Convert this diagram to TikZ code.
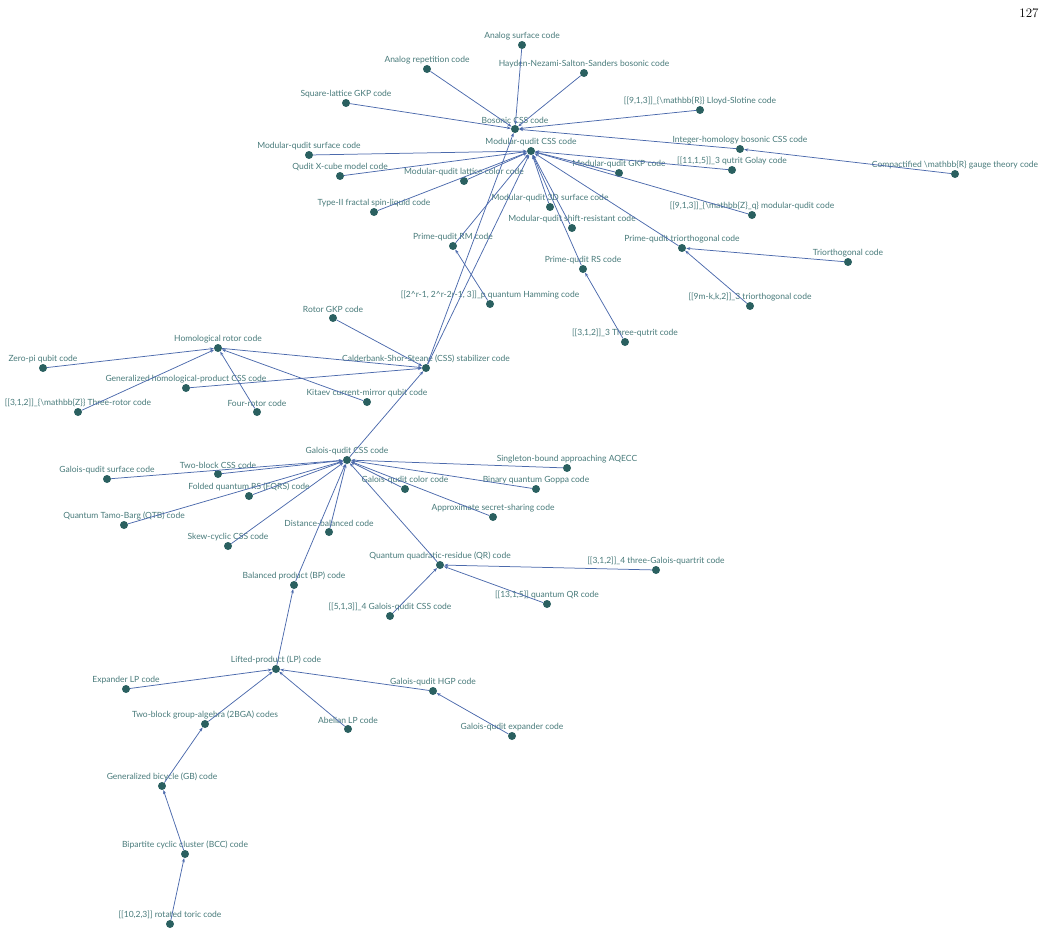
\documentclass[tikz,border=0pt]{standalone}
\usepackage{fontspec}
\newfontfamily\labfont{Lato}
\usetikzlibrary{arrows.meta}
\definecolor{dotcol}{RGB}{42,96,96}
\definecolor{labcol}{RGB}{72,122,122}
\definecolor{edgecol}{RGB}{76,106,172}
\tikzset{
  dot/.style={circle,fill=dotcol,inner sep=0pt,minimum size=8pt},
  lab/.style={font=\labfont\fontsize{8.5}{9}\selectfont,text=labcol,inner sep=0pt,label distance=1pt},
  edge/.style={draw=edgecol,line width=0.75pt,-{Stealth[length=4pt,width=3pt]}}
}
\begin{document}
\begin{tikzpicture}[x=1pt,y=-1pt,every label/.style={lab}]
\useasboundingbox (0,0) rectangle (1046,942);
\node[font=\fontsize{13}{14}\selectfont] (pagenum) at (1029,13) {127};
% bosonic part
\node[dot,label=above:Analog surface code] (anasurf) at (522,45) {};
\node[dot,label=above:Analog repetition code] (anarep) at (427,69) {};
\node[dot,label=above:Hayden-Nezami-Salton-Sanders bosonic code] (hnss) at (584,73) {};
\node[dot,label=above:Square-lattice GKP code] (sqgkp) at (346,103) {};
\node[dot,label=above:{[[9,1,3]]\_\{\textbackslash mathbb\{R\}\} Lloyd-Slotine code}] (lloyd) at (700,110) {};
\node[dot,label=above:Bosonic CSS code] (boscss) at (515,129) {};
\node[dot,label=above:Integer-homology bosonic CSS code] (inthom) at (740,149) {};
\node[dot,label=above:Compactified \textbackslash mathbb\{R\} gauge theory code] (compact) at (955,174) {};
% modular-qudit part
\node[dot,label=above:Modular-qudit CSS code] (modcss) at (531,151) {};
\node[dot,label=above:Modular-qudit surface code] (modsurf) at (309,155) {};
\node[dot,label=above:Qudit X-cube model code] (xcube) at (340,176) {};
\node[dot,label=above:Modular-qudit lattice color code] (modcolor) at (464,181) {};
\node[dot,label=above:{[[11,1,5]]\_3 qutrit Golay code}] (golay) at (732,170) {};
\node[dot,label=above:Modular-qudit GKP code] (modgkp) at (619,173) {};
\node[dot,label=above:Type-II fractal spin-liquid code] (fractal) at (374,212) {};
\node[dot,label=above:Modular-qudit 3D surface code] (mod3d) at (550,207) {};
\node[dot,label=above:{[[9,1,3]]\_\{\textbackslash mathbb\{Z\}\_q\} modular-qudit code}] (ninezq) at (752,215) {};
\node[dot,label=above:Modular-qudit shift-resistant code] (shiftres) at (572,228) {};
\node[dot,label=above:Prime-qudit RM code] (primerm) at (453,246) {};
\node[dot,label=above:Prime-qudit triorthogonal code] (primetri) at (682,248) {};
\node[dot,label=above:Triorthogonal code] (triorth) at (848,262) {};
\node[dot,label=above:Prime-qudit RS code] (primers) at (583,269) {};
\node[dot,label=above:{[[2\textasciicircum r-1, 2\textasciicircum r-2r-1, 3]]\_p quantum Hamming code}] (hamming) at (490,304) {};
\node[dot,label=above:{[[9m-k,k,2]]\_3 triorthogonal code}] (ninem) at (750,306) {};
\node[dot,label=above:{[[3,1,2]]\_3 Three-qutrit code}] (threequtrit) at (625,342) {};
% rotor part
\node[dot,label=above:Rotor GKP code] (rotorgkp) at (333,318) {};
\node[dot,label=above:Homological rotor code] (homrotor) at (218,348) {};
\node[dot,label=above:Calderbank-Shor-Steane (CSS) stabilizer code] (css) at (426,368) {};
\node[dot,label=above:Zero-pi qubit code] (zeropi) at (43,368) {};
\node[dot,label=above:Generalized homological-product CSS code] (genhom) at (186,388) {};
\node[dot,label=above:Kitaev current-mirror qubit code] (kitaev) at (367,402) {};
\node[dot,label=above:{[[3,1,2]]\_\{\textbackslash mathbb\{Z\}\} Three-rotor code}] (threerotor) at (78,412) {};
\node[dot,label=above:Four-rotor code] (fourrotor) at (257,412) {};
% galois-qudit part
\node[dot,label=above:Galois-qudit CSS code] (galcss) at (347,460) {};
\node[dot,label=above:Galois-qudit surface code] (galsurf) at (107,479) {};
\node[dot,label=above:Two-block CSS code] (twoblock) at (218,474) {};
\node[dot,label=above:Singleton-bound approaching AQECC] (singleton) at (567,468) {};
\node[dot,label=above:Folded quantum RS (FQRS) code] (fqrs) at (249,496) {};
\node[dot,label=above:Galois-qudit color code] (galcolor) at (405,489) {};
\node[dot,label=above:Binary quantum Goppa code] (goppa) at (536,489) {};
\node[dot,label=above:Quantum Tamo-Barg (QTB) code] (qtb) at (124,525) {};
\node[dot,label=above:Approximate secret-sharing code] (secret) at (493,517) {};
\node[dot,label=above:Distance-balanced code] (distbal) at (329,532) {};
\node[dot,label=above:Skew-cyclic CSS code] (skew) at (228,546) {};
\node[dot,label=above:Quantum quadratic-residue (QR) code] (qr) at (440,565) {};
\node[dot,label=above:{[[3,1,2]]\_4 three-Galois-quartrit code}] (quartrit) at (656,570) {};
\node[dot,label=above:Balanced product (BP) code] (bp) at (294,585) {};
\node[dot,label=above:{[[13,1,5]] quantum QR code}] (qrthirteen) at (547,604) {};
\node[dot,label=above:{[[5,1,3]]\_4 Galois-qudit CSS code}] (fivegal) at (390,616) {};
% lifted-product part
\node[dot,label=above:Lifted-product (LP) code] (lp) at (276,669) {};
\node[dot,label=above:Expander LP code] (explp) at (126,689) {};
\node[dot,label=above:Galois-qudit HGP code] (galhgp) at (433,691) {};
\node[dot,label=above:Two-block group-algebra (2BGA) codes] (tbga) at (205,724) {};
\node[dot,label=above:Abelian LP code] (abelp) at (348,729) {};
\node[dot,label=above:Galois-qudit expander code] (galexp) at (512,736) {};
\node[dot,label=above:Generalized bicycle (GB) code] (gb) at (162,786) {};
\node[dot,label=above:Bipartite cyclic cluster (BCC) code] (bcc) at (185,854) {};
\node[dot,label=above:{[[10,2,3]] rotated toric code}] (rottoric) at (170,924) {};
% edges
\draw[edge] (anasurf) -- (boscss);
\draw[edge] (anarep) -- (boscss);
\draw[edge] (hnss) -- (boscss);
\draw[edge] (sqgkp) -- (boscss);
\draw[edge] (lloyd) -- (boscss);
\draw[edge] (inthom) -- (boscss);
\draw[edge] (compact) -- (inthom);
\draw[edge] (css) -- (boscss);
\draw[edge] (css) -- (modcss);
\draw[edge] (modsurf) -- (modcss);
\draw[edge] (xcube) -- (modcss);
\draw[edge] (modcolor) -- (modcss);
\draw[edge] (fractal) -- (modcss);
\draw[edge] (golay) -- (modcss);
\draw[edge] (modgkp) -- (modcss);
\draw[edge] (ninezq) -- (modcss);
\draw[edge] (mod3d) -- (modcss);
\draw[edge] (shiftres) -- (modcss);
\draw[edge] (primerm) -- (modcss);
\draw[edge] (primetri) -- (modcss);
\draw[edge] (primers) -- (modcss);
\draw[edge] (triorth) -- (primetri);
\draw[edge] (ninem) -- (primetri);
\draw[edge] (threequtrit) -- (primers);
\draw[edge] (hamming) -- (primerm);
\draw[edge] (rotorgkp) -- (css);
\draw[edge] (homrotor) -- (css);
\draw[edge] (genhom) -- (css);
\draw[edge] (galcss) -- (css);
\draw[edge] (zeropi) -- (homrotor);
\draw[edge] (threerotor) -- (homrotor);
\draw[edge] (fourrotor) -- (homrotor);
\draw[edge] (kitaev) -- (homrotor);
\draw[edge] (galsurf) -- (galcss);
\draw[edge] (twoblock) -- (galcss);
\draw[edge] (fqrs) -- (galcss);
\draw[edge] (qtb) -- (galcss);
\draw[edge] (skew) -- (galcss);
\draw[edge] (distbal) -- (galcss);
\draw[edge] (bp) -- (galcss);
\draw[edge] (galcolor) -- (galcss);
\draw[edge] (goppa) -- (galcss);
\draw[edge] (singleton) -- (galcss);
\draw[edge] (secret) -- (galcss);
\draw[edge] (qr) -- (galcss);
\draw[edge] (quartrit) -- (qr);
\draw[edge] (qrthirteen) -- (qr);
\draw[edge] (fivegal) -- (qr);
\draw[edge] (lp) -- (bp);
\draw[edge] (explp) -- (lp);
\draw[edge] (tbga) -- (lp);
\draw[edge] (abelp) -- (lp);
\draw[edge] (galhgp) -- (lp);
\draw[edge] (galexp) -- (galhgp);
\draw[edge] (gb) -- (tbga);
\draw[edge] (bcc) -- (gb);
\draw[edge] (rottoric) -- (bcc);
\end{tikzpicture}
\end{document}
